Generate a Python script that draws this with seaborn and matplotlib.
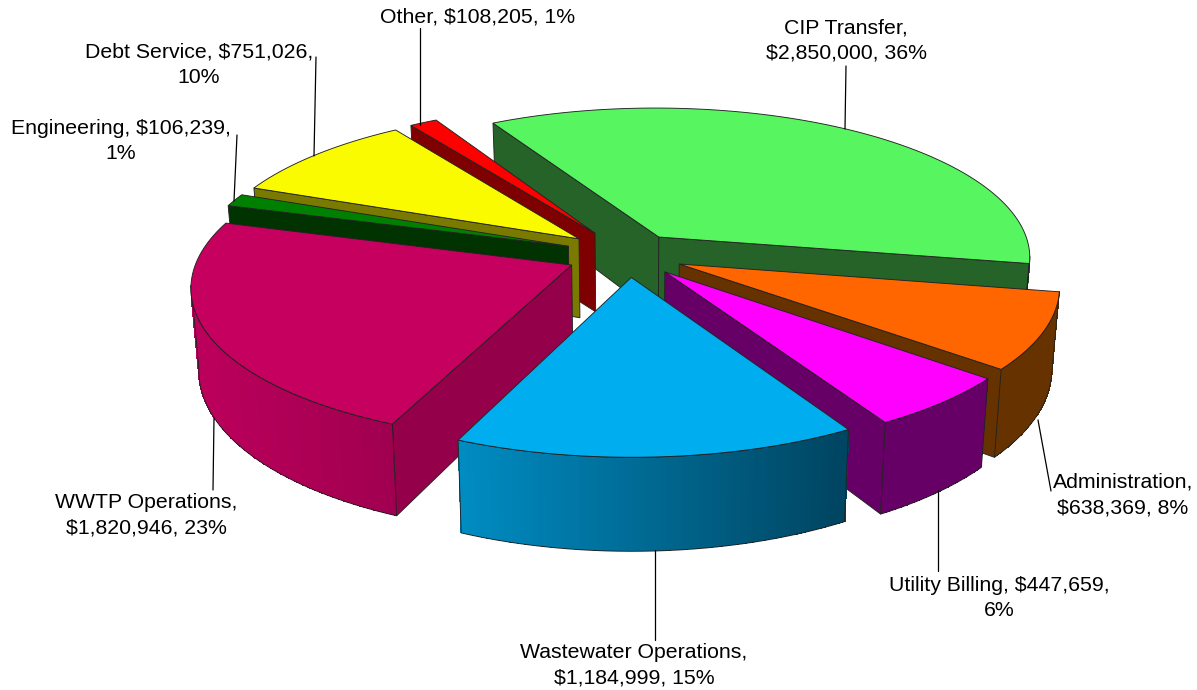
import numpy as np
import matplotlib
matplotlib.use("Agg")
import matplotlib.pyplot as plt
import matplotlib.colors as mc
import seaborn as sns

categories = ["CIP Transfer", "Administration", "Utility Billing", "Wastewater Operations",
              "WWTP Operations", "Engineering", "Debt Service", "Other"]
amounts = [2850000, 638369, 447659, 1184999, 1820946, 106239, 751026, 108205]
percents = [36, 8, 6, 15, 23, 1, 10, 1]

top_colors = ["#57F55F", "#FF6600", "#FF00FF", "#00ADEF", "#C5005F", "#008000", "#FBFB00", "#FF0000"]
side_colors = ["#266329", "#663300", "#660066", "#006A94", "#95004A", "#003300", "#7A7A00", "#7F0000"]
arc_left = ["#266329", "#663300", "#660066", "#004460", "#A00050", "#003300", "#7A7A00", "#7F0000"]
arc_right = ["#266329", "#663300", "#660066", "#008CC2", "#BC005B", "#003300", "#7A7A00", "#7F0000"]
explode = [0.145, 0.15, 0.15, 0.15, 0.165, 0.17, 0.17, 0.17]
label_breaks = ["{c},\n{a}, {p}%", "{c},\n{a}, {p}%", "{c}, {a},\n{p}%", "{c},\n{a}, {p}%",
                "{c},\n{a}, {p}%", "{c}, {a},\n{p}%", "{c}, {a},\n{p}%", "{c}, {a}, {p}%"]
label_xy = [(846, 40.5), (1123, 495), (999, 598), (634, 665), (146, 515), (121, 141), (199, 65), (478, 17)]
leaders = [((846, 66), (845, 129)), ((1038, 420), (1051, 491)), ((938, 490), (938, 571)),
           ((655, 550), (655, 640)), ((214, 418), (213, 490)), ((237, 135), (234, 201)),
           ((316, 57), (314, 156)), ((420, 28), (420, 125))]
paint_order = [0, 7, 6, 5, 4, 1, 2, 3]

CX, CY, A, B, H, P, TILT, START = 628, 254.5, 373, 150, 80, 0.13, 0.018, -29.5

sns.set_theme(style="white")
plt.rcParams["font.family"] = ["Liberation Sans", "DejaVu Sans"]
fig, ax = plt.subplots(figsize=(11.97, 6.90), dpi=100)
ax.set_position([0, 0, 1, 1])
ax.set_xlim(0, 1197)
ax.set_ylim(690, 0)
ax.axis("off")


def project(u, v, z=0.0):
    s = 1.0 / (1.0 + P * v)
    x = CX + A * u * s * (1 - TILT * z)
    y = CY - B * v * s + H * z * s
    return x, y


total = sum(amounts)
sweeps = np.array(amounts) / total * 360
starts = START + np.concatenate([[0], np.cumsum(sweeps)[:-1]])
EDGE = dict(edgecolor="#222222", linewidth=0.65)

for rank, i in enumerate(paint_order):
    t0, sw = starts[i], sweeps[i]
    base = rank * 10
    mid = np.radians(t0 + sw / 2)
    ou, ov = explode[i] * np.sin(mid), explode[i] * np.cos(mid)
    th = np.radians(np.linspace(t0, t0 + sw, max(int(sw * 3), 6) + 1))
    us, vs = ou + np.sin(th), ov + np.cos(th)

    # radial walls that face the viewer
    if np.sin(th[0]) < 0:
        p = [project(ou, ov, 0), project(us[0], vs[0], 0), project(us[0], vs[0], 1), project(ou, ov, 1)]
        ax.fill(*zip(*p), facecolor=side_colors[i], zorder=base + 1, **EDGE)
    if np.sin(th[-1]) > 0:
        p = [project(ou, ov, 0), project(us[-1], vs[-1], 0), project(us[-1], vs[-1], 1), project(ou, ov, 1)]
        ax.fill(*zip(*p), facecolor=side_colors[i], zorder=base + 1, **EDGE)

    # outer wall: only the part in front of the perspective silhouette
    front = np.cos(th) < -P
    if front.sum() >= 2:
        fu, fv = us[front], vs[front]
        xt, yt = project(fu, fv, 0)
        xb, yb = project(fu, fv, 1)
        xx = np.vstack([xt, xb])
        yy = np.vstack([yt, yb])
        all_x = project(us, vs, 0)[0]
        lo, hi = all_x.min(), all_x.max()
        frac = ((0.5 * (xt[:-1] + xt[1:]) - lo) / max(hi - lo, 1)).reshape(1, -1)
        cmap = mc.LinearSegmentedColormap.from_list(f"w{i}", [arc_right[i], arc_left[i]])
        ax.pcolormesh(xx, yy, frac, cmap=cmap, vmin=0, vmax=1, shading="flat",
                      antialiased=False, linewidth=0, zorder=base + 2)
        ax.plot(np.r_[xt, xb[::-1], xt[0]], np.r_[yt, yb[::-1], yt[0]],
                color="#222222", lw=0.65, zorder=base + 3)

    tx, ty = project(us, vs, 0)
    ax0, ay0 = project(ou, ov, 0)
    ax.fill(np.r_[ax0, tx], np.r_[ay0, ty], facecolor=top_colors[i], zorder=base + 4, **EDGE)

for i, cat in enumerate(categories):
    ax.plot(*zip(*leaders[i]), color="black", lw=0.9, zorder=200)
    txt = label_breaks[i].format(c=cat, a=f"${amounts[i]:,}", p=percents[i])
    ax.text(*label_xy[i], txt, ha="center", va="center", fontsize=15.35,
            linespacing=1.43, color="black", zorder=210)

fig.savefig("out.png", dpi=100, facecolor="white")
